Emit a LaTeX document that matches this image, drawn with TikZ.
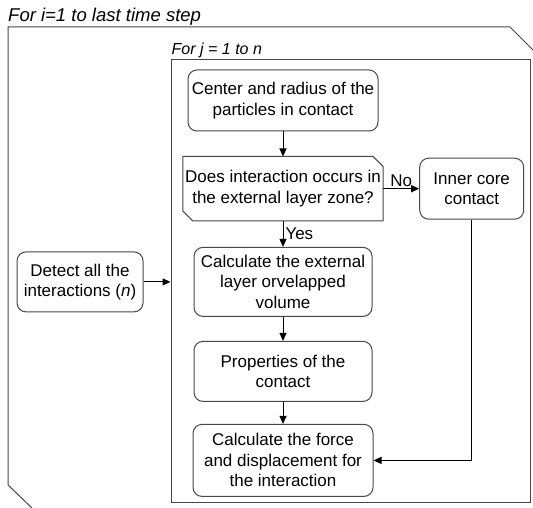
\documentclass[tikz,border=0pt]{standalone}
\usepackage{fontspec}
\setmainfont{Liberation Sans}
\usetikzlibrary{positioning,arrows.meta}

\definecolor{linegray}{HTML}{474747}

\tikzset{
	proc/.style={draw=linegray, line width=1pt, rounded corners=9pt, align=center,
		inner sep=0pt, font=\fontsize{17pt}{20.5pt}\selectfont},
	cond/.style={align=center, inner sep=0pt, minimum width=200pt, minimum height=64pt,
		font=\fontsize{17pt}{20.5pt}\selectfont},
	frame/.style={draw=linegray, line width=1pt},
	flow/.style={draw=black, line width=1pt, -{Triangle[length=8pt,width=7pt]}},
	tag/.style={font=\fontsize{17pt}{20.5pt}\selectfont, inner sep=2pt},
	looptag/.style={font=\itshape, inner sep=1pt, anchor=south west}
}

\begin{document}
\begin{tikzpicture}[x=1pt, y=1pt, node distance=24pt]
		\clip (0,0) rectangle (533,-508);
		% Outer loop (cut at the page edges)
		\draw[frame] (32,-508) -- (8,-485) -- (8,-27) -- (510,-27) -- (545,-62);
		\node[looptag, font=\fontsize{18.5pt}{21pt}\selectfont\itshape] (iloop) at (7,-27) {For i=1 to last time step};
		% Inner loop
		\node[frame, minimum width=359pt, minimum height=442pt] (jloop) at (350.5,-281) {};
		\node[looptag, font=\fontsize{16pt}{19pt}\selectfont\itshape] (jlabel) at (jloop.north west) {For j = 1 to n};
		% Define nodes
		\node[proc, minimum width=190pt, minimum height=61pt] at (283,-100.5) (centre) {Center and radius of the\\particles in contact};
		\node[cond, below = 25pt of centre] (zone) {Does interaction occurs in\\the external layer zone?};
		\node[proc, right = 36pt of zone, minimum width=104pt, minimum height=61pt] (core) {Inner core\\contact};
		\node[proc, below = 26pt of zone, minimum width=178pt, minimum height=69pt] (volume) {Calculate the external\\layer orvelapped\\volume};
		\node[proc, below = of volume, minimum width=178pt, minimum height=60pt] (props) {Properties of the\\contact};
		\node[proc, below = 22pt of props, minimum width=180pt, minimum height=72pt] (force) {Calculate the force\\and displacement for\\the interaction};
		\node[proc, left = 50pt of volume, minimum width=126pt, minimum height=60pt] (detect) {Detect all the\\interactions (\textit{n})};
		% Decision box with two cut corners
		\draw[frame] (zone.north west) -- ([xshift=-10pt]zone.north east) -- ([yshift=-10pt]zone.north east)
			-- (zone.south east) -- ([xshift=10pt]zone.south west) -- ([yshift=10pt]zone.south west) -- cycle;
		% Connectors
		\draw[flow] (detect.east) -- (detect.east -| jloop.west);
		\draw[flow] (centre) -- (zone);
		\draw[flow] (zone) -- node[tag, above] {No} (core);
		\draw[flow] (zone) -- node[tag, right] {Yes} (volume);
		\draw[flow] (volume) -- (props);
		\draw[flow] (props) -- (force);
		\draw[flow] (core.south) |- (force.east);
	\end{tikzpicture}
\end{document}
